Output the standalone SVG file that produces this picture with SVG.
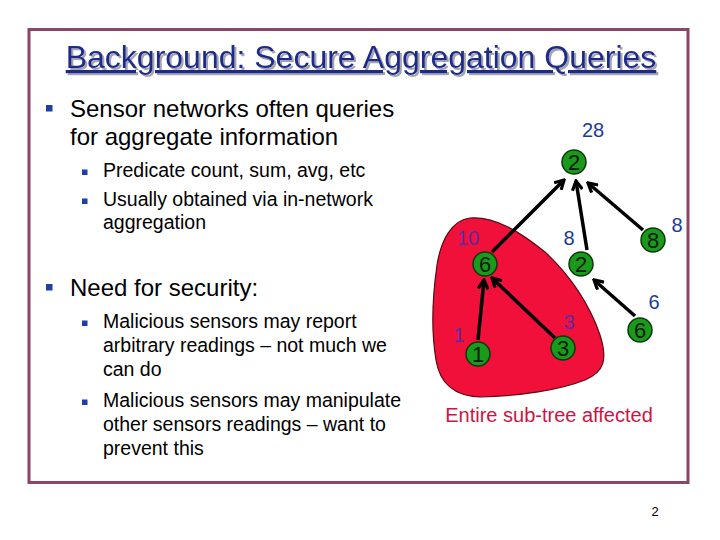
<svg xmlns="http://www.w3.org/2000/svg" width="720" height="540" viewBox="0 0 720 540">
<style>
text{font-family:"Liberation Sans",Arial,sans-serif}
.main{font-size:24px;fill:#000}
.sub{font-size:19.5px;fill:#000}
.bul{fill:#1f3fa6}
.node circle{fill:#1a9a1a;stroke:#0a3a0a;stroke-width:1.5}
.node text{font-size:22px;fill:#0a1a0a;text-anchor:middle}
.lab{font-size:20px;fill:#1a3a9a;text-anchor:middle}
.labp{font-size:20px;fill:#5a2ca6;text-anchor:middle}
.edge{stroke:#000;stroke-width:3.5;fill:none;marker-end:url(#ah)}
</style>
<defs>
<marker id="ah" viewBox="0 0 12 12" refX="10" refY="6" markerWidth="12" markerHeight="12" markerUnits="userSpaceOnUse" orient="auto">
<polyline points="1,1 10,6 1,11" fill="none" stroke="#000" stroke-width="3.2" stroke-linejoin="miter"/>
</marker>
<filter id="shadow" x="-5%" y="-20%" width="110%" height="150%">
<feDropShadow dx="2" dy="2" stdDeviation="0.4" flood-color="#9a9aa8" flood-opacity="0.9"/>
</filter>
</defs>
<rect x="0" y="0" width="720" height="540" fill="#fff"/>
<rect x="29" y="29.5" width="659" height="453" fill="none" stroke="#8a4468" stroke-width="3"/>
<g id="title">
<text x="361" y="68" font-size="32" text-anchor="middle" fill="#1c2c8e" text-decoration="underline" filter="url(#shadow)">Background: Secure Aggregation Queries</text>
</g>
<g id="bullets">
<rect class="bul" x="46" y="105" width="6.5" height="6.5"/>
<text class="main" x="70" y="117">Sensor networks often queries</text>
<text class="main" x="70" y="145">for aggregate information</text>
<rect class="bul" x="82" y="169.5" width="5.5" height="5.5"/>
<text class="sub" x="103" y="177">Predicate count, sum, avg, etc</text>
<rect class="bul" x="82" y="198.5" width="5.5" height="5.5"/>
<text class="sub" x="103" y="206">Usually obtained via in-network</text>
<text class="sub" x="103" y="229">aggregation</text>
<rect class="bul" x="46" y="284" width="6.5" height="6.5"/>
<text class="main" x="70" y="296">Need for security:</text>
<rect class="bul" x="82" y="320.5" width="5.5" height="5.5"/>
<text class="sub" x="103" y="328">Malicious sensors may report</text>
<text class="sub" x="103" y="352">arbitrary readings – not much we</text>
<text class="sub" x="103" y="376">can do</text>
<rect class="bul" x="82" y="399.5" width="5.5" height="5.5"/>
<text class="sub" x="103" y="407">Malicious sensors may manipulate</text>
<text class="sub" x="103" y="431">other sensors readings – want to</text>
<text class="sub" x="103" y="455">prevent this</text>
</g>
<g id="blob">
<path d="M470,218 C495,216 520,232 545,252 C570,275 590,305 600,335 C608,360 604,372 585,380 C560,390 520,396 480,397 C455,396 440,385 436,360 C431,330 432,300 437,265 C441,240 452,220 470,218 Z" fill="#f0103a" stroke="#5a0a14" stroke-width="1.2"/>
</g>
<g id="connectors">
<line class="edge" x1="492" y1="252" x2="564" y2="180"/>
<line class="edge" x1="587" y1="250" x2="576" y2="181"/>
<line class="edge" x1="643" y1="230" x2="588" y2="183"/>
<line class="edge" x1="478" y1="340" x2="484" y2="280"/>
<line class="edge" x1="555" y1="338" x2="492" y2="278"/>
<line class="edge" x1="635" y1="316" x2="594" y2="280"/>
</g>
<g id="n-root" class="node"><circle cx="574" cy="162" r="12"/><text x="574" y="170">2</text></g>
<g id="n-6" class="node"><circle cx="485" cy="264" r="12"/><text x="485" y="272">6</text></g>
<g id="n-2b" class="node"><circle cx="581" cy="264" r="12"/><text x="581" y="272">2</text></g>
<g id="n-8" class="node"><circle cx="653" cy="240" r="12"/><text x="653" y="248">8</text></g>
<g id="n-1" class="node"><circle cx="478" cy="354" r="12"/><text x="478" y="362">1</text></g>
<g id="n-3" class="node"><circle cx="563" cy="348" r="12"/><text x="563" y="356">3</text></g>
<g id="n-6b" class="node"><circle cx="640" cy="330" r="12"/><text x="640" y="338">6</text></g>
<g id="labels">
<text class="lab" x="593" y="137">28</text>
<text class="labp" x="468" y="245">10</text>
<text class="lab" x="569" y="245">8</text>
<text class="lab" x="677" y="232">8</text>
<text class="lab" x="654" y="309">6</text>
<text class="labp" x="459" y="342">1</text>
<text class="labp" x="569" y="329">3</text>
<text x="549" y="422" font-size="20" text-anchor="middle" fill="#cc1444">Entire sub-tree affected</text>
<text x="655" y="516" font-size="13" text-anchor="middle" fill="#000">2</text>
</g>
</svg>
